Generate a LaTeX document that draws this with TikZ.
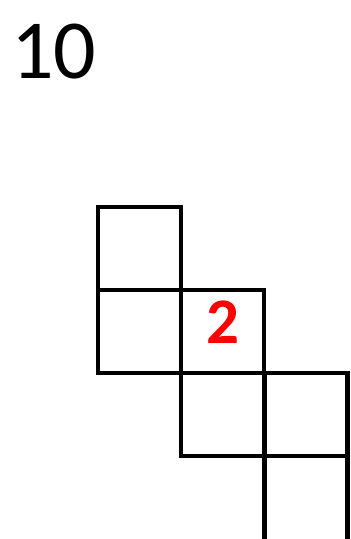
\documentclass[tikz,border=0pt]{standalone}
\usepackage{fontspec}
\setmainfont{Carlito}
\begin{document}
\begin{tikzpicture}[x=1pt,y=-1pt,
  cell/.style={draw=black,line width=4.2pt,minimum size=83pt,inner sep=0pt,outer sep=0pt},
  bignum/.style={font=\fontsize{84}{84}\selectfont,inner sep=0pt,anchor=base west},
  rednum/.style={font=\fontsize{65}{65}\selectfont\bfseries,text=red,inner sep=0pt,anchor=base}]
\useasboundingbox (0,0) rectangle (351,539);
\begin{scope}
\clip (0,0) rectangle (351,539);
\node[cell] (a) at (139.5,248.5) {};
\node[cell] (b) at (139.5,331.5) {};
\node[cell] (c) at (222.5,331.5) {};
\node[cell] (d) at (222.5,414.5) {};
\node[cell] (e) at (306,414.5) {};
\node[cell,minimum height=88pt] (f) at (306,500) {};
\end{scope}
\node[bignum] (t) at (11,78) {10};
\node[rednum] (n) at (222.5,343) {2};
\end{tikzpicture}
\end{document}
